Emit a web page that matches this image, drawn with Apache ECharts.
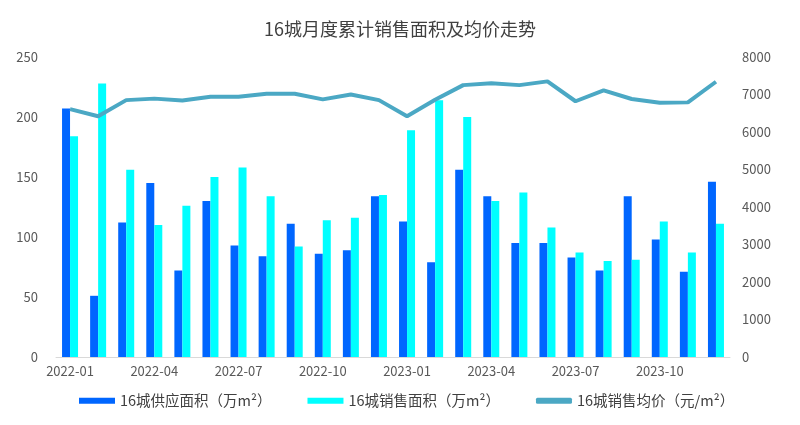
<!DOCTYPE html>
<html>
<head>
<meta charset="utf-8">
<script src="https://cdn.jsdelivr.net/npm/echarts@6/dist/echarts.min.js"></script>
<style>html,body{margin:0;padding:0;background:#fff}#c{width:800px;height:425px}</style>
</head>
<body>
<div id="c"></div>
<script>
const categories = ['2022-01','2022-02','2022-03','2022-04','2022-05','2022-06','2022-07','2022-08','2022-09','2022-10','2022-11','2022-12',
  '2023-01','2023-02','2023-03','2023-04','2023-05','2023-06','2023-07','2023-08','2023-09','2023-10','2023-11','2023-12'];
const supply = [207,51,112,145,72,130,93,84,111,86,89,134, 113,79,156,134,95,95,83,72,134,98,71,146];
const sales = [184,228,156,110,126,150,158,134,92,114,116,135, 189,214,200,130,137,108,87,80,81,113,87,111];
const price = [6610,6420,6850,6890,6840,6940,6940,7020,7020,6870,7000,6850, 6420,6860,7250,7300,7250,7350,6820,7110,6880,6780,6790,7340];
const names = ['16城供应面积（万m²）','16城销售面积（万m²）','16城销售均价（元/m²）'];

const chart = echarts.init(document.getElementById('c'));
const txt = '#595959';
const ff = '"Noto Sans CJK SC", "Noto Sans", sans-serif';
chart.setOption({
  animation:false,
  textStyle:{fontFamily:ff},
  title:{text:'16城月度累计销售面积及均价走势',left:'center',top:15,textStyle:{fontSize:18,fontWeight:'normal',color:'#404040',fontFamily:ff}},
  grid:{left:56,right:70,top:57,bottom:68},
  legend:{bottom:12,left:74,itemWidth:36,itemHeight:6,itemGap:36,textStyle:{fontSize:14.5,color:'#404040',fontFamily:ff},
    data:[{name:names[0],icon:'rect'},{name:names[1],icon:'rect'},{name:names[2],icon:'roundRect'}]},
  xAxis:{type:'category',data:categories,
    axisLine:{lineStyle:{color:'#d9d9d9',width:1}},axisTick:{show:false},
    axisLabel:{interval:2,color:txt,fontSize:13,margin:8,fontFamily:ff}},
  yAxis:[
    {type:'value',min:0,max:250,interval:50,splitLine:{show:false},axisLine:{show:false},axisTick:{show:false},
      axisLabel:{color:txt,fontSize:13,margin:18,fontFamily:ff}},
    {type:'value',min:0,max:8000,interval:1000,splitLine:{show:false},axisLine:{show:false},axisTick:{show:false},
      axisLabel:{color:txt,fontSize:13,margin:12,fontFamily:ff,formatter:function(v){return String(v);}}}
  ],
  series:[
    {name:names[0],type:'bar',data:supply,barWidth:8,barGap:'0%',itemStyle:{color:'#0066FF'}},
    {name:names[1],type:'bar',data:sales,barWidth:8,itemStyle:{color:'#00FFFF'}},
    {name:names[2],type:'line',yAxisIndex:1,data:price,showSymbol:false,symbol:'none',
      lineStyle:{color:'#4BA8C4',width:4},itemStyle:{color:'#4BA8C4'}}
  ]
});
</script>
</body>
</html>
